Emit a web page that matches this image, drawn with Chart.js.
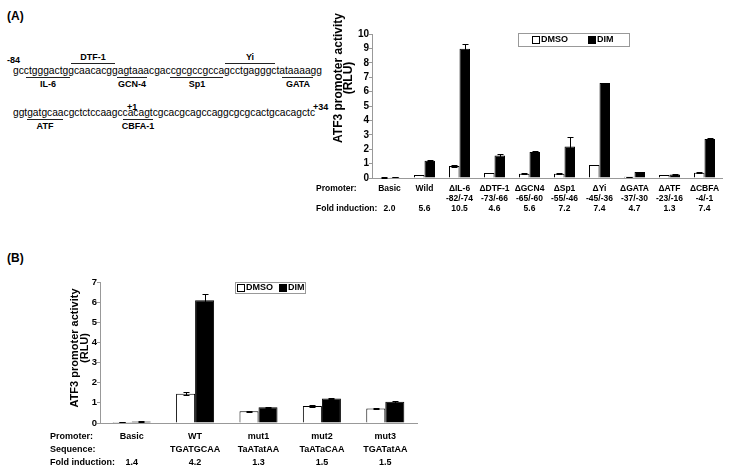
<!DOCTYPE html>
<html>
<head>
<meta charset="utf-8">
<script src="https://cdn.jsdelivr.net/npm/chart.js@4.4.0/dist/chart.umd.min.js"></script>
<style>
  body { margin: 0; width: 733px; height: 472px; background: #fff; position: relative; overflow: hidden; }
  #art { position: absolute; left: 0; top: 0; }
  #chartA { position: absolute; left: 270px; top: 0; }
  #chartB { position: absolute; left: 0; top: 270px; }
</style>
</head>
<body>
<svg id="art" width="733" height="472" font-family="Liberation Sans, Arial, sans-serif">
  <text x="7" y="20" font-size="12" font-weight="bold">(A)</text>
  <text x="7" y="262" font-size="12" font-weight="bold">(B)</text>

  <!-- promoter sequence, line 1 -->
  <text x="7" y="63" font-size="9" font-weight="bold">-84</text>
  <text x="13" y="74" font-size="11" textLength="309" lengthAdjust="spacingAndGlyphs">gcctgggactggcaacacggagtaaacgaccgcgccgccagcctgagggctataaaagg</text>
  <g stroke="#222" stroke-width="1">
    <line x1="71" x2="115" y1="63.5" y2="63.5"/>
    <line x1="225" x2="275" y1="63.5" y2="63.5"/>
    <line x1="26" x2="70" y1="77.5" y2="77.5"/>
    <line x1="117" x2="147" y1="77.5" y2="77.5"/>
    <line x1="170" x2="223" y1="77.5" y2="77.5"/>
    <line x1="282" x2="313" y1="77.5" y2="77.5"/>
  </g>
  <g font-size="9" font-weight="bold" text-anchor="middle">
    <text x="93" y="60">DTF-1</text>
    <text x="250" y="60">Yi</text>
    <text x="48" y="87">IL-6</text>
    <text x="132" y="87">GCN-4</text>
    <text x="197" y="87">Sp1</text>
    <text x="298" y="87">GATA</text>
  </g>

  <!-- promoter sequence, line 2 -->
  <text x="127" y="110" font-size="9" font-weight="bold">+1</text>
  <text x="313" y="110" font-size="9" font-weight="bold">+34</text>
  <text x="13" y="116" font-size="11" textLength="302" lengthAdjust="spacingAndGlyphs">ggtgatgcaacgctctccaagccacagtcgcacgcagccaggcgcgcactgcacagctc</text>
  <g stroke="#222" stroke-width="1">
    <line x1="27" x2="63" y1="119.5" y2="119.5"/>
    <line x1="123" x2="153" y1="119.5" y2="119.5"/>
  </g>
  <g font-size="9" font-weight="bold" text-anchor="middle">
    <text x="45" y="129">ATF</text>
    <text x="138" y="129">CBFA-1</text>
  </g>
</svg>

<canvas id="chartA" width="463" height="222"></canvas>
<canvas id="chartB" width="440" height="202"></canvas>

<script>
// panel A: deletion mutants
const promotersA = ['Basic', 'Wild', 'ΔIL-6', 'ΔDTF-1', 'ΔGCN4', 'ΔSp1', 'ΔYi', 'ΔGATA', 'ΔATF', 'ΔCBFA'];
const regionsA = ['', '', '-82/-74', '-73/-66', '-65/-60', '-55/-46', '-45/-36', '-37/-30', '-23/-16', '-4/-1'];
const foldA = ['2.0', '5.6', '10.5', '4.6', '5.6', '7.2', '7.4', '4.7', '1.3', '7.4'];
const dmsoA = [0.03, 0.21, 0.84, 0.35, 0.30, 0.30, 0.90, 0.09, 0.20, 0.37];
const dimA = [0.06, 1.20, 8.97, 1.56, 1.80, 2.18, 6.60, 0.42, 0.25, 2.70];
const dmsoErrA = [0.01, 0.02, 0.06, 0.02, 0.02, 0.02, 0.02, 0.01, 0.01, 0.02];
const dimErrA = [0.01, 0.05, 0.33, 0.12, 0.05, 0.70, 0.03, 0.03, 0.02, 0.05];

// panel B: ATF site point mutants
const promotersB = ['Basic', 'WT', 'mut1', 'mut2', 'mut3'];
const sequencesB = ['', 'TGATGCAA', 'TaATatAA', 'TaATaCAA', 'TGATatAA'];
const foldB = ['1.4', '4.2', '1.3', '1.5', '1.5'];
const dmsoB = [0.05, 1.45, 0.58, 0.84, 0.72];
const dimB = [0.08, 6.10, 0.78, 1.22, 1.05];
const dmsoErrB = [0.01, 0.08, 0.03, 0.05, 0.03];
const dimErrB = [0.01, 0.30, 0.03, 0.03, 0.05];

const FONT = "'Liberation Sans', Arial, sans-serif";

// error bars drawn from each dataset's errors array
const errorBars = {
    id: 'errorBars',
    afterDatasetsDraw(chart) {
        const ctx = chart.ctx;
        const y = chart.scales.y;
        ctx.save();
        ctx.strokeStyle = '#000';
        ctx.lineWidth = 1;
        chart.data.datasets.forEach((ds, di) => {
            chart.getDatasetMeta(di).data.forEach((bar, i) => {
                const v = ds.data[i], e = ds.errors[i];
                const top = Math.round(y.getPixelForValue(v + e)) + 0.5;
                const bot = Math.round(y.getPixelForValue(v - e)) + 0.5;
                const x = Math.round(bar.x) + 0.5;
                ctx.beginPath();
                ctx.moveTo(x, top); ctx.lineTo(x, bot);
                ctx.moveTo(x - 3, top); ctx.lineTo(x + 3, top);
                ctx.moveTo(x - 3, bot); ctx.lineTo(x + 3, bot);
                ctx.stroke();
            });
        });
        ctx.restore();
    }
};

// boxed legend placed inside the plot like the original
const boxLegend = {
    id: 'boxLegend',
    afterDraw(chart, args, opts) {
        const ctx = chart.ctx;
        ctx.save();
        ctx.strokeStyle = '#999';
        ctx.lineWidth = 1;
        ctx.strokeRect(opts.x + 0.5, opts.y + 0.5, opts.w, opts.h);
        ctx.font = 'bold ' + opts.size + 'px ' + FONT;
        ctx.textBaseline = 'middle';
        const cy = opts.y + opts.h / 2 + 0.5;
        opts.items.forEach((it, i) => {
            const ds = chart.data.datasets[i];
            ctx.fillStyle = ds.backgroundColor;
            ctx.fillRect(it.x + 0.5, cy - 3.5, 7, 7);
            ctx.strokeStyle = '#000';
            ctx.strokeRect(it.x + 0.5, cy - 3.5, 7, 7);
            ctx.fillStyle = '#000';
            ctx.fillText(ds.label, it.x + 9, cy);
        });
        ctx.restore();
    }
};

// row captions left of the category labels
const rowLabels = {
    id: 'rowLabels',
    afterDraw(chart, args, opts) {
        const ctx = chart.ctx;
        ctx.save();
        ctx.font = 'bold ' + opts.size + 'px ' + FONT;
        ctx.fillStyle = '#000';
        ctx.textBaseline = 'middle';
        opts.rows.forEach((r, i) => {
            if (r) ctx.fillText(r, opts.x, opts.y + i * opts.step);
        });
        ctx.restore();
    }
};

// two-line rotated y axis title
const yTitle = {
    id: 'yTitle',
    afterDraw(chart, args, opts) {
        const ctx = chart.ctx;
        ctx.save();
        ctx.font = 'bold ' + opts.size + 'px ' + FONT;
        ctx.fillStyle = '#000';
        ctx.textAlign = 'center';
        ctx.textBaseline = 'middle';
        opts.lines.forEach((t, i) => {
            ctx.save();
            ctx.translate(opts.xs[i], opts.y);
            ctx.rotate(-Math.PI / 2);
            ctx.fillText(t, 0, 0);
            ctx.restore();
        });
        ctx.restore();
    }
};

function barChart(canvas, cfg) {
    return new Chart(canvas, {
        type: 'bar',
        data: {
            labels: cfg.labels,
            datasets: [
                { label: 'DMSO', data: cfg.dmso, errors: cfg.dmsoErr, backgroundColor: '#fff', borderColor: '#000', borderWidth: 1, categoryPercentage: 0.6, barPercentage: 1 },
                { label: 'DIM', data: cfg.dim, errors: cfg.dimErr, backgroundColor: '#000', borderColor: '#000', borderWidth: 1, categoryPercentage: 0.6, barPercentage: 1 }
            ]
        },
        options: {
            responsive: false,
            animation: false,
            devicePixelRatio: 1,
            layout: { padding: cfg.padding },
            plugins: {
                legend: { display: false },
                tooltip: { enabled: false },
                boxLegend: cfg.legend,
                rowLabels: cfg.rows,
                yTitle: cfg.title
            },
            scales: {
                x: {
                    grid: { display: true, drawOnChartArea: false, drawTicks: false },
                    border: { color: '#999' },
                    ticks: { color: '#000', font: { family: FONT, size: cfg.xFont, weight: 'bold', lineHeight: cfg.xLine / cfg.xFont }, padding: cfg.xPad, maxRotation: 0, autoSkip: false },
                    afterFit(s) { s.height = cfg.xHeight; }
                },
                y: {
                    min: 0, max: cfg.yMax,
                    ticks: { stepSize: 1, autoSkip: false, color: '#000', font: { family: FONT, size: cfg.yFont, weight: 'bold' }, padding: 0 },
                    grid: { drawOnChartArea: false, tickLength: 3, color: '#999' },
                    border: { color: '#999' },
                    afterFit(s) { s.width = cfg.yWidth; }
                }
            }
        },
        plugins: [errorBars, boxLegend, rowLabels, yTitle]
    });
}

barChart(document.getElementById('chartA'), {
    labels: promotersA.map((p, i) => [p, regionsA[i], foldA[i]]),
    dmso: dmsoA, dim: dimA, dmsoErr: dmsoErrA, dimErr: dimErrA,
    padding: { left: 0, right: 11, top: 34, bottom: 0 },
    yMax: 10, yWidth: 102, yFont: 10,
    xHeight: 44, xFont: 8.5, xLine: 10, xPad: 6,
    legend: { x: 248, y: 33, w: 111, h: 13, size: 9, items: [{ x: 262 }, { x: 318 }] },
    rows: { x: 46, y: 189, step: 10, size: 8.5, rows: ['Promoter:', '', 'Fold induction:'] },
    title: { size: 12, lines: ['ATF3 promoter activity', '(RLU)'], xs: [69, 79], y: 78 }
});

barChart(document.getElementById('chartB'), {
    labels: promotersB.map((p, i) => [p, sequencesB[i], foldB[i]]),
    dmso: dmsoB, dim: dimB, dmsoErr: dmsoErrB, dimErr: dimErrB,
    padding: { left: 0, right: 23, top: 12, bottom: 0 },
    yMax: 7, yWidth: 100, yFont: 9.5,
    xHeight: 49, xFont: 9, xLine: 13, xPad: 7.5,
    legend: { x: 235, y: 12, w: 70, h: 11, size: 9, items: [{ x: 237 }, { x: 279 }] },
    rows: { x: 50, y: 167, step: 13, size: 9, rows: ['Promoter:', 'Sequence:', 'Fold induction:'] },
    title: { size: 11, lines: ['ATF3 promoter activity', '(RLU)'], xs: [75, 85], y: 78 }
});
</script>
</body>
</html>
